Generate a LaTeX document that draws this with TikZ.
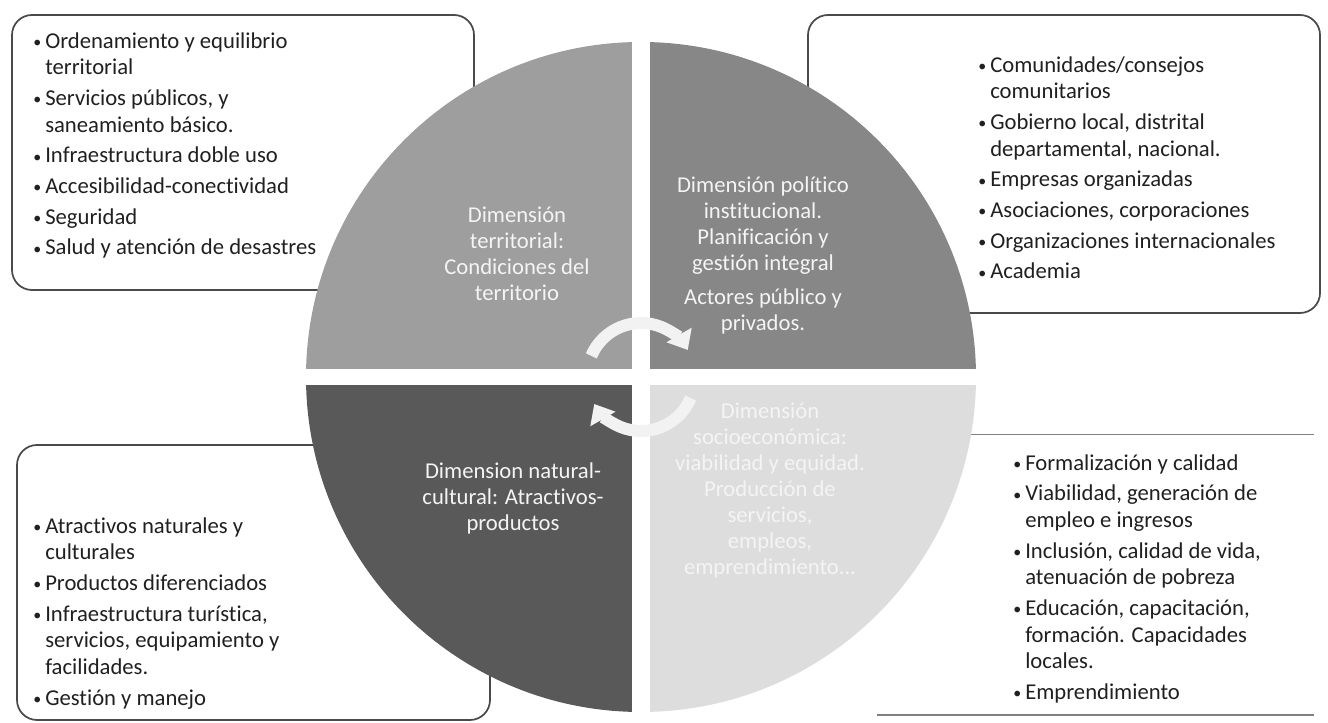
\documentclass[tikz,border=0pt]{standalone}
\usepackage{fontspec}
\setmainfont{Carlito}[Ligatures=NoCommon]
\usetikzlibrary{arrows.meta}
\definecolor{qtl}{HTML}{9E9E9E}
\definecolor{qtr}{HTML}{878787}
\definecolor{qbl}{HTML}{595959}
\definecolor{qbr}{HTML}{DDDDDD}
\definecolor{boxgray}{HTML}{4A4A4A}
\definecolor{listgray}{HTML}{202020}
\definecolor{arrowwhite}{HTML}{F2F2F2}
\definecolor{quadwhite}{HTML}{F4F4F4}
\newcommand{\bi}{\makebox[9pt][l]{\raisebox{0.6pt}{\fontsize{12}{12}\selectfont •}}}
\newcommand{\ind}{\hspace*{9pt}}
\begin{document}
\begin{tikzpicture}[x=0.75pt,y=0.75pt,
  boxline/.style={draw=boxgray, line width=1.3pt, rounded corners=15pt},
  openline/.style={draw=boxgray!70, line width=1pt},
  listtext/.style={anchor=north west, inner sep=0pt, align=left, text=listgray,
    font=\fontsize{17}{20}\selectfont},
  quadtext/.style={align=center, text=quadwhite, inner sep=0pt,
    font=\fontsize{17}{19.5}\selectfont},
  cyc/.style={line width=9pt, draw=arrowwhite, -{Triangle[length=13pt,width=21pt]}}]
\useasboundingbox (0,0) rectangle (1328,723);
\coordinate (C) at (641,346);

% boxes (behind the circle)
\draw[boxline] (12,433) rectangle (474,708);
\draw[boxline] (808,410) rectangle (1320,708);
\draw[boxline] (17,3) rectangle (490,278);
\node[inner sep=0pt, minimum width=327pt, minimum height=210pt, anchor=south west] (brbox) at (877,8) {};
\draw[openline] (brbox.north west) -- (brbox.north east);
\draw[openline] (brbox.south west) -- (brbox.south east);

% quadrants
\begin{scope}
  \clip (C) circle[radius=335];
  \fill[qtl] ([shift={(-9,8)}]C) rectangle ([shift={(-400,400)}]C);
  \fill[qtr] ([shift={(9,8)}]C) rectangle ([shift={(400,400)}]C);
  \fill[qbl] ([shift={(-9,-8)}]C) rectangle ([shift={(-400,-400)}]C);
  \fill[qbr] ([shift={(9,-8)}]C) rectangle ([shift={(400,-400)}]C);
\end{scope}

% quadrant texts
\node[quadtext] (qtltext) at (517,469) {Dimensión\\territorial:\\Condiciones del\\territorio};
\node[quadtext] (qtrtext) at (763,468) {Dimensión político\\institucional.\\Planificación y\\gestión integral\\[6pt]Actores público y\\privados.};
\node[quadtext] (qbltext) at (513,225) {Dimension natural-\\cultural: Atractivos-\\productos};
\node[quadtext] (qbrtext) at (770,232) {Dimensión\\socioeconómica:\\viabilidad y equidad.\\Producción de\\servicios,\\empleos,\\emprendimiento...};

% cycle arrows
\draw[cyc] ([shift={(157:54)}]C) arc[start angle=157, end angle=30, radius=54];
\draw[cyc] ([shift={(-23:54)}]C) arc[start angle=-23, end angle=-150, radius=54];

% list texts
\node[listtext] (tllist) at (33,693.6) {\strut\bi Ordenamiento y equilibrio\\
\ind territorial\\[3pt]
\bi Servicios públicos, y\\
\ind saneamiento básico.\\[3pt]
\bi Infraestructura doble uso\\[3pt]
\bi Accesibilidad-conectividad\\[3pt]
\bi Seguridad\\[3pt]
\bi Salud y atención de desastres};

\node[listtext] (trlist) at (978,669.6) {\strut\bi Comunidades/consejos\\
\ind comunitarios\\[3pt]
\bi Gobierno local, distrital\\
\ind departamental, nacional.\\[3pt]
\bi Empresas organizadas\\[3pt]
\bi Asociaciones, corporaciones\\[3pt]
\bi Organizaciones internacionales\\[3pt]
\bi Academia};

\node[listtext] (bllist) at (33,208.6) {\strut\bi Atractivos naturales y\\
\ind culturales\\[3pt]
\bi Productos diferenciados\\[3pt]
\bi Infraestructura turística,\\
\ind servicios, equipamiento y\\
\ind facilidades.\\[3pt]
\bi Gestión y manejo};

\node[listtext] (brlist) at (1013,271.6) {\strut\bi Formalización y calidad\\[3pt]
\bi Viabilidad, generación de\\
\ind empleo e ingresos\\[3pt]
\bi Inclusión, calidad de vida,\\
\ind atenuación de pobreza\\[3pt]
\bi Educación, capacitación,\\
\ind formación. Capacidades\\
\ind locales.\\[3pt]
\bi Emprendimiento};
\end{tikzpicture}
\end{document}
